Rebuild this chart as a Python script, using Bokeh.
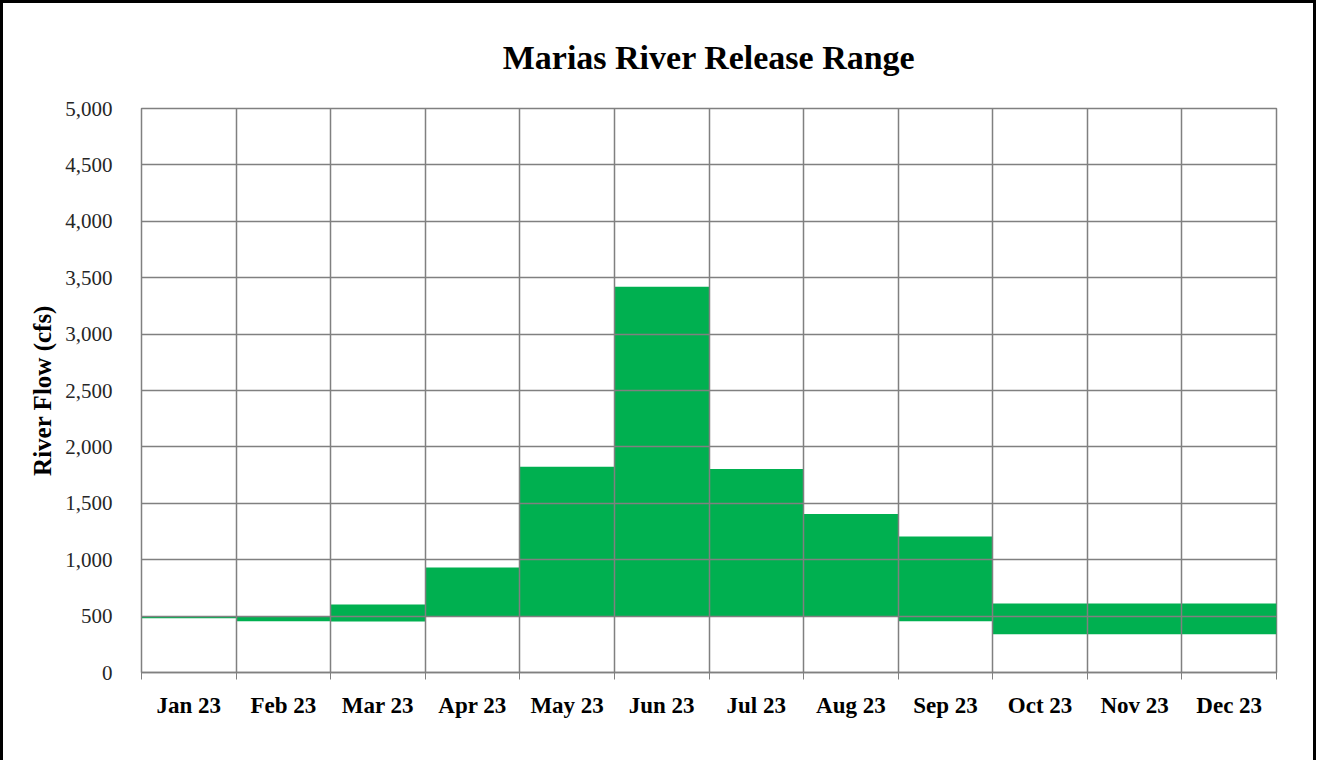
from bokeh.plotting import figure
from bokeh.models import FixedTicker, NumeralTickFormatter, CustomJSTickFormatter, Range1d, ColumnDataSource
from bokeh.embed import file_html
from bokeh.resources import INLINE

title_text = "Marias River Release Range"
months = ["Jan 23", "Feb 23", "Mar 23", "Apr 23", "May 23", "Jun 23",
          "Jul 23", "Aug 23", "Sep 23", "Oct 23", "Nov 23", "Dec 23"]
low_flow = [480, 455, 452, 500, 500, 500, 500, 500, 455, 340, 340, 340]
high_flow = [500, 500, 603, 930, 1825, 3420, 1805, 1405, 1205, 612, 612, 612]
y_ticks = [0, 500, 1000, 1500, 2000, 2500, 3000, 3500, 4000, 4500, 5000]

idx = list(range(len(months)))
src = ColumnDataSource(dict(left=idx, right=[i + 1 for i in idx],
                            bottom=low_flow, top=high_flow))

FONT = "Liberation Serif"

p = figure(width=1316, height=760, output_backend="svg", toolbar_location=None,
           x_range=Range1d(0, len(months)), y_range=Range1d(0, y_ticks[-1]),
           title=title_text,
           min_border_left=138, min_border_right=43,
           min_border_top=105, min_border_bottom=91)

p.quad(left="left", right="right", bottom="bottom", top="top", source=src,
       fill_color="#00B050", line_color=None)

p.title.align = "center"
p.title.text_font = FONT
p.title.text_font_size = "34px"
p.title.text_font_style = "bold"
p.title.text_color = "#000000"
p.title.offset = 0
p.title.standoff = 65

# x axis
p.xaxis.ticker = FixedTicker(ticks=[i + 0.5 for i in idx], minor_ticks=list(range(len(months) + 1)))
p.xaxis.formatter = CustomJSTickFormatter(args=dict(labels=months),
                                          code="return labels[Math.floor(tick)];")
p.xaxis.major_tick_line_color = None
p.xaxis.minor_tick_line_color = "#808080"
p.xaxis.minor_tick_out = 7
p.xaxis.minor_tick_in = 0
p.xaxis.axis_line_color = "#808080"
p.xaxis.axis_line_width = 1.5
p.xaxis.major_label_text_font = FONT
p.xaxis.major_label_text_font_style = "bold"
p.xaxis.major_label_text_font_size = "23px"
p.xaxis.major_label_text_color = "#000000"
p.xaxis.major_label_standoff = 13

# y axis
p.yaxis.ticker = FixedTicker(ticks=y_ticks)
p.yaxis.formatter = NumeralTickFormatter(format="0,0")
p.yaxis.major_tick_line_color = None
p.yaxis.minor_tick_line_color = None
p.yaxis.axis_line_color = "#808080"
p.yaxis.major_label_text_font = FONT
p.yaxis.major_label_text_font_size = "21px"
p.yaxis.major_label_text_color = "#262626"
p.yaxis.major_label_standoff = 23
p.yaxis.axis_label = "River Flow (cfs)"
p.yaxis.axis_label_text_font = FONT
p.yaxis.axis_label_text_font_style = "bold"
p.yaxis.axis_label_text_font_size = "25px"
p.yaxis.axis_label_text_color = "#000000"
p.yaxis.axis_label_standoff = 6

# grids above the fill
p.xgrid.ticker = FixedTicker(ticks=list(range(len(months) + 1)))
p.ygrid.ticker = FixedTicker(ticks=y_ticks)
for g in (p.xgrid, p.ygrid):
    g.grid_line_color = "#808080"
    g.grid_line_width = 1.5
    g.level = "overlay"

p.outline_line_color = "#808080"
p.outline_line_width = 1.5
p.background_fill_color = "white"
p.border_fill_color = "white"
p.styles = {"border-top": "3px solid black", "border-left": "3px solid black",
            "border-right": "3px solid black", "box-sizing": "border-box"}

open("out.html", "w").write(file_html(p, INLINE))
